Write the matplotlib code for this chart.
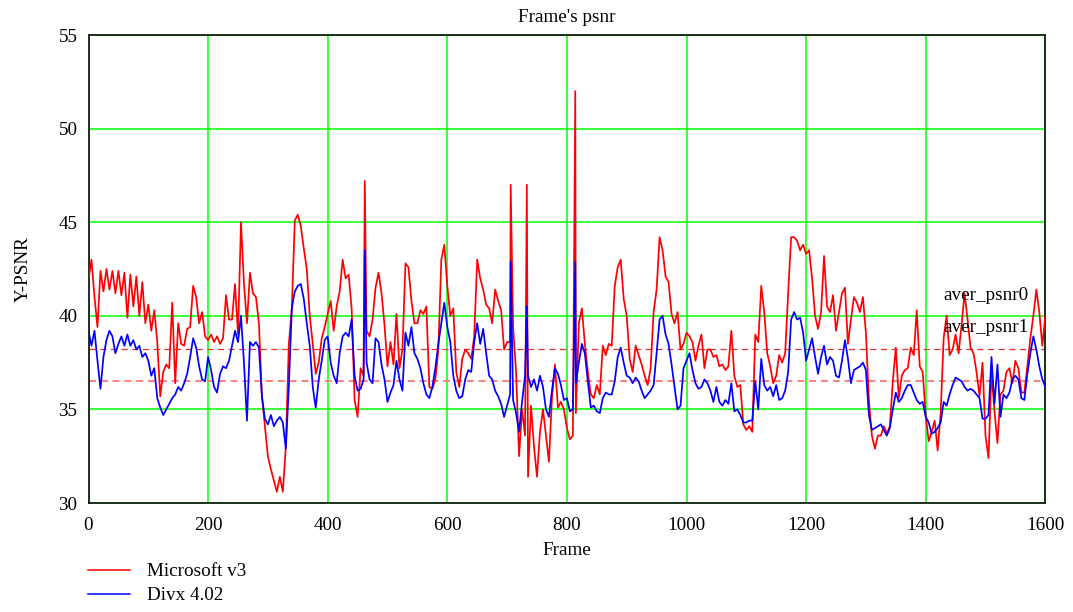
import numpy as np
import matplotlib
matplotlib.use("Agg")
import matplotlib.pyplot as plt
from matplotlib.lines import Line2D

# ---- data -------------------------------------------------------------
frame_step = 5
frame_max = 1600

psnr_microsoft = [
    # 0-195
    41.9, 43.0, 41.0, 39.4, 42.4, 41.3, 42.5, 41.4, 42.4, 41.2,
    42.4, 41.1, 42.3, 39.9, 42.2, 40.5, 42.1, 40.0, 41.8, 39.6,
    40.6, 39.2, 40.3, 38.6, 35.7, 37.0, 37.4, 37.2, 40.7, 36.4,
    39.6, 38.5, 38.4, 39.3, 39.4, 41.6, 41.0, 39.6, 40.2, 38.9,
    # 200-395
    38.7, 39.0, 38.6, 38.9, 38.5, 38.8, 41.1, 39.8, 39.8, 41.7,
    39.0, 45.0, 41.7, 39.6, 42.3, 41.2, 41.0, 39.6, 35.7, 34.1,
    32.5, 31.8, 31.2, 30.6, 31.4, 30.6, 33.0, 38.5, 40.4, 45.1,
    45.4, 44.8, 43.6, 42.5, 40.0, 38.5, 36.9, 37.5, 38.8, 39.4,
    # 400-595
    40.1, 40.8, 39.2, 40.5, 41.3, 43.0, 42.0, 42.2, 40.4, 35.5,
    34.6, 37.2, 36.8, 39.2, 38.9, 39.8, 41.5, 42.3, 41.2, 39.5,
    37.3, 38.6, 37.4, 40.1, 37.2, 38.2, 42.8, 42.6, 40.8, 39.6,
    39.6, 40.3, 40.1, 40.5, 36.2, 36.1, 36.6, 38.2, 43.0, 43.8,
    # 600-795
    41.6, 40.0, 40.4, 37.0, 36.2, 37.7, 38.2, 38.0, 37.7, 38.9,
    43.0, 42.0, 41.4, 40.6, 40.4, 39.6, 41.4, 40.8, 40.3, 38.2,
    38.6, 38.6, 39.4, 37.0, 32.5, 35.0, 33.6, 31.4, 35.2, 33.0,
    31.4, 33.8, 35.0, 33.6, 32.2, 35.6, 37.4, 35.1, 35.4, 35.0,
    # 800-995
    34.0, 33.4, 33.6, 34.8, 39.6, 40.4, 38.5, 37.0, 35.8, 35.6,
    36.3, 35.8, 38.4, 37.9, 38.5, 38.4, 41.6, 42.6, 43.0, 40.9,
    40.0, 37.7, 37.0, 38.4, 37.9, 37.4, 36.8, 36.3, 37.2, 40.2,
    41.4, 44.2, 43.5, 42.1, 41.8, 40.1, 39.6, 40.2, 38.2, 38.5,
    # 1000-1195
    39.1, 38.9, 38.6, 37.6, 38.4, 39.0, 37.2, 38.2, 38.2, 37.8,
    37.9, 37.3, 37.4, 37.1, 37.3, 39.2, 36.8, 36.2, 36.3, 34.2,
    33.9, 34.1, 33.8, 39.0, 38.6, 41.6, 40.2, 38.0, 37.3, 36.4,
    36.8, 37.9, 37.5, 38.0, 41.2, 44.2, 44.2, 44.0, 43.5, 43.8,
    # 1200-1395
    43.3, 43.5, 42.0, 40.0, 39.3, 40.2, 43.2, 40.5, 40.2, 41.1,
    39.2, 40.2, 41.2, 41.5, 38.5, 39.8, 41.0, 40.7, 40.2, 41.0,
    39.1, 35.5, 33.6, 32.9, 33.6, 33.6, 34.1, 33.7, 34.1, 36.5,
    38.3, 35.6, 36.8, 37.1, 37.2, 38.3, 37.9, 40.3, 37.3, 37.0,
    # 1400-1600
    34.7, 33.3, 33.8, 34.4, 32.8, 34.8, 38.8, 40.0, 37.9, 38.2,
    39.0, 38.0, 39.5, 41.2, 39.8, 38.3, 38.0, 37.0, 35.7, 37.5,
    33.6, 32.4, 37.0, 34.9, 33.2, 35.8, 36.0, 37.0, 37.2, 36.4,
    37.6, 37.2, 35.9, 35.9, 37.3, 38.8, 40.0, 41.4, 40.2, 38.4,
    40.0,
]

psnr_divx = [
    # 0-195
    39.2, 38.4, 39.2, 37.6, 36.1, 37.8, 38.7, 39.2, 38.9, 38.0,
    38.5, 38.9, 38.4, 39.0, 38.4, 38.7, 38.2, 38.4, 37.8, 38.0,
    37.6, 36.8, 37.2, 35.6, 35.1, 34.7, 35.0, 35.3, 35.6, 35.8,
    36.2, 36.0, 36.4, 36.9, 37.8, 38.8, 38.3, 37.3, 36.6, 36.5,
    # 200-395
    37.8, 37.1, 36.2, 35.9, 36.9, 37.3, 37.2, 37.6, 38.4, 39.2,
    38.6, 40.0, 37.5, 34.4, 38.6, 38.4, 38.6, 38.3, 35.7, 34.5,
    34.2, 34.7, 34.1, 34.4, 34.6, 34.3, 32.9, 36.2, 40.4, 41.3,
    41.6, 41.7, 40.9, 39.6, 38.4, 36.2, 35.1, 36.6, 37.6, 38.7,
    # 400-595
    38.9, 37.5, 36.8, 36.4, 38.0, 38.9, 39.1, 38.9, 39.8, 36.8,
    36.0, 36.1, 36.6, 37.5, 36.6, 36.4, 38.8, 38.6, 37.4, 36.6,
    35.4, 35.9, 36.3, 37.6, 36.6, 36.0, 39.1, 38.4, 39.4, 38.0,
    37.7, 37.2, 36.4, 35.8, 35.6, 36.2, 37.2, 38.5, 39.6, 40.7,
    # 600-795
    39.4, 38.6, 36.8, 36.0, 35.6, 35.7, 36.6, 37.1, 37.0, 38.6,
    39.6, 38.5, 39.3, 38.0, 36.8, 36.6, 36.0, 35.7, 35.3, 34.6,
    35.2, 35.8, 35.5, 34.8, 33.8, 35.4, 36.8, 36.8, 36.2, 36.6,
    36.0, 36.8, 36.2, 35.0, 34.6, 36.0, 37.2, 36.9, 36.3, 35.5,
    # 800-995
    35.6, 34.9, 35.0, 36.4, 37.5, 38.5, 38.0, 36.5, 35.1, 35.2,
    34.9, 34.8, 35.6, 35.9, 35.8, 35.8, 36.5, 37.8, 38.3, 37.5,
    36.8, 36.7, 36.4, 36.7, 36.5, 36.0, 35.6, 35.8, 36.0, 36.3,
    38.0, 39.8, 40.0, 39.0, 38.5, 37.4, 36.2, 35.0, 35.2, 37.2,
    # 1000-1195
    37.6, 38.0, 37.1, 36.4, 36.1, 36.2, 36.6, 36.4, 36.0, 35.4,
    36.2, 35.4, 35.2, 35.5, 35.3, 36.4, 34.9, 35.0, 34.7, 34.3,
    34.3, 34.4, 34.4, 36.5, 35.0, 37.7, 36.3, 36.0, 36.2, 35.7,
    36.3, 35.5, 35.6, 36.0, 37.0, 39.8, 40.2, 39.8, 39.9, 39.1,
    # 1200-1395
    37.6, 38.2, 38.8, 37.8, 36.9, 37.8, 38.4, 37.4, 37.8, 37.6,
    36.8, 36.7, 37.6, 38.7, 37.7, 36.4, 37.1, 37.2, 37.3, 37.5,
    37.1, 34.7, 33.9, 34.0, 34.1, 34.2, 33.9, 33.6, 34.0, 35.0,
    35.9, 35.4, 35.6, 36.0, 36.3, 36.3, 35.9, 35.5, 35.3, 35.4,
    # 1400-1600
    34.6, 34.3, 33.7, 33.8, 34.0, 34.3, 35.4, 35.2, 35.8, 36.3,
    36.7, 36.6, 36.5, 36.2, 36.0, 36.1, 36.0, 35.8, 35.6, 34.5,
    34.5, 34.7, 37.8, 35.3, 37.4, 34.6, 35.8, 35.6, 35.9, 36.6,
    36.8, 36.6, 35.6, 35.5, 36.9, 38.0, 38.9, 38.2, 37.3, 36.6,
    36.2,
]

# single-frame peaks (frame, Microsoft, Divx)
spike_frames = [462, 706, 733, 814]
spike_microsoft = [47.2, 47.0, 47.0, 52.0]
spike_divx = [43.5, 42.9, 40.5, 42.9]

aver_psnr0 = 38.2
aver_psnr1 = 36.5

series_labels = ["Microsoft v3", "Divx 4.02"]
x_ticks = [0, 200, 400, 600, 800, 1000, 1200, 1400, 1600]
y_ticks = [30, 35, 40, 45, 50, 55]

# ---- assemble --------------------------------------------------------
frames = np.arange(0, frame_max + 1, frame_step).astype(float)
pos = np.searchsorted(frames, spike_frames)
frames_all = np.insert(frames, pos, spike_frames)
ms_all = np.insert(np.array(psnr_microsoft), pos, spike_microsoft)
dx_all = np.insert(np.array(psnr_divx), pos, spike_divx)

# ---- figure ----------------------------------------------------------
plt.rcParams["font.family"] = ["Liberation Serif", "DejaVu Serif"]
plt.rcParams["lines.scale_dashes"] = False
FS = 13.8
W, H = 1073, 612
fig = plt.figure(figsize=(W / 100, H / 100), dpi=100)
ax = fig.add_axes([88.5 / W, 1 - 503 / H, (1045.3 - 88.5) / W, (503 - 35) / H])

ax.set_xlim(0, frame_max)
ax.set_ylim(30, 55)
ax.set_xticks(x_ticks)
ax.set_yticks(y_ticks)
ax.grid(True, color="#00ff00", lw=1.1)
ax.set_axisbelow(True)
ax.tick_params(length=0, labelsize=FS, pad=8)
ax.tick_params(axis="x", pad=10)
for s in ax.spines.values():
    s.set_color("#102010")
    s.set_linewidth(1.3)

ax.axhline(aver_psnr0, color="#e83030", lw=0.9, dashes=(4.5, 3.2), zorder=2)
ax.axhline(aver_psnr1, color="#ff7f7f", lw=1.4, dashes=(5, 3.5), zorder=2)

ax.plot(frames_all, ms_all, color="#ff0000", lw=1.25, zorder=3)
ax.plot(frames_all, dx_all, color="#0000ff", lw=1.25, zorder=4)

ax.text(1429, 41.1, "aver_psnr0", fontsize=FS, va="center", ha="left", zorder=5)
ax.text(1429, 39.35, "aver_psnr1", fontsize=FS, va="center", ha="left", zorder=5)

ax.set_title("Frame's psnr", fontsize=FS, pad=9)
ax.set_xlabel("Frame", fontsize=FS, labelpad=6)
ax.set_ylabel("Y-PSNR", fontsize=FS, labelpad=19)

# legend under the plot
for label, color, ypx in zip(series_labels, ["#ff0000", "#0000ff"], [570, 594]):
    yf = 1 - ypx / H
    fig.add_artist(Line2D([88 / W, 130 / W], [yf, yf], color=color, lw=1.1))
    fig.text(147 / W, yf - 2 / H, label, fontsize=FS, va="center", ha="left")

fig.savefig("out.png", dpi=100)
